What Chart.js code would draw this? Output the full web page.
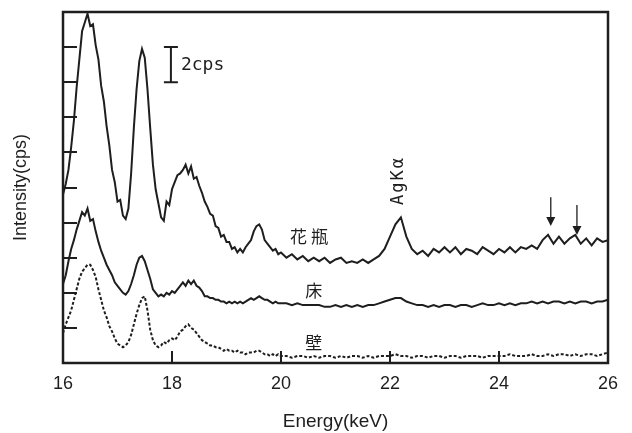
<!DOCTYPE html>
<html>
<head>
<meta charset="utf-8">
<script src="https://cdn.jsdelivr.net/npm/chart.js@4/dist/chart.umd.min.js"></script>
<style>
  html, body { margin: 0; padding: 0; background: #fff; }
  #wrap { width: 632px; height: 433px; }
</style>
</head>
<body>
<div id="wrap"><canvas id="spectrumChart" width="632" height="433"></canvas></div>
<script>
// energy channels (keV)
const energies = [
  16.00, 16.05, 16.10, 16.15, 16.20, 16.25, 16.30, 16.35, 16.40, 16.45,
  16.50, 16.55, 16.60, 16.65, 16.70, 16.75, 16.80, 16.85, 16.90, 16.95,
  17.00, 17.05, 17.10, 17.15, 17.20, 17.25, 17.30, 17.35, 17.40, 17.45,
  17.50, 17.55, 17.60, 17.65, 17.70, 17.75, 17.80, 17.85, 17.90, 17.95,
  18.00, 18.05, 18.10, 18.15, 18.20, 18.25, 18.30, 18.35, 18.40, 18.45,
  18.50, 18.55, 18.60, 18.65, 18.70, 18.75, 18.80, 18.85, 18.90, 18.95,
  19.00, 19.05, 19.10, 19.15, 19.20, 19.25, 19.30, 19.35, 19.40, 19.45,
  19.50, 19.55, 19.60, 19.65, 19.70, 19.75, 19.80, 19.85, 19.90, 19.95,
  20.0,
  20.1, 20.2, 20.3, 20.4, 20.5, 20.6, 20.7, 20.8, 20.9, 21.0,
  21.1, 21.2, 21.3, 21.4, 21.5, 21.6, 21.7, 21.8, 21.9, 22.0,
  22.1, 22.2, 22.3, 22.4, 22.5, 22.6, 22.7, 22.8, 22.9, 23.0,
  23.1, 23.2, 23.3, 23.4, 23.5, 23.6, 23.7, 23.8, 23.9, 24.0,
  24.1, 24.2, 24.3, 24.4, 24.5, 24.6, 24.7, 24.8, 24.9, 25.0,
  25.1, 25.2, 25.3, 25.4, 25.5, 25.6, 25.7, 25.8, 25.9, 26.0
];

// 花瓶 (vase), offset trace
const vase = [
  9.6, 10.2, 11.0, 12.3, 13.8, 15.7, 17.3, 18.9, 19.4, 19.9,
  19.2, 19.3, 18.1, 17.3, 15.8, 14.9, 13.5, 12.4, 11.0, 10.3,
  9.2, 9.3, 8.4, 8.2, 8.8, 10.8, 13.4, 15.6, 17.2, 17.9,
  17.4, 15.6, 13.4, 11.3, 9.9, 9.1, 8.3, 8.1, 9.2, 9.0,
  9.9, 10.3, 10.7, 10.8, 11.0, 11.3, 10.8, 11.2, 10.5, 10.6,
  10.1, 9.7, 9.2, 8.9, 8.5, 8.4, 7.8, 7.7, 7.2, 7.3,
  6.9, 6.9, 6.5, 6.6, 6.3, 6.5, 6.3, 6.6, 6.8, 7.0,
  7.5, 7.8, 7.9, 7.6, 7.0, 6.8, 6.6, 6.4, 6.5, 6.2,
  6.3,
  6.0, 6.2, 5.9, 6.1, 5.8, 6.0, 5.8, 6.0, 5.7, 5.9,
  6.0, 5.7, 5.8, 5.7, 5.9, 5.7, 5.9, 6.1, 6.5, 7.2,
  7.9, 8.3, 7.2, 6.5, 6.2, 6.4, 6.1, 6.5, 6.3, 6.6,
  6.3, 6.6, 6.2, 6.5, 6.4, 6.2, 6.6, 6.4, 6.2, 6.5,
  6.3, 6.6, 6.3, 6.6, 6.5, 6.7, 6.5, 7.0, 7.3, 6.8,
  7.2, 6.8, 7.1, 7.3, 6.8, 7.1, 6.7, 7.1, 6.9, 7.0
];

// 床 (floor)
const floor = [
  4.5, 5.0, 5.8, 6.5, 7.0, 7.6, 8.1, 8.6, 8.4, 8.8,
  8.1, 8.2, 7.5, 6.9, 6.4, 6.0, 5.6, 5.3, 5.0, 4.6,
  4.4, 4.2, 4.0, 3.9, 4.1, 4.5, 5.0, 5.6, 6.0, 6.1,
  5.8, 5.3, 4.8, 4.2, 4.0, 3.8, 3.9, 3.8, 4.0, 3.9,
  4.1, 4.0, 4.2, 4.4, 4.6, 4.4, 4.7, 4.5, 4.7, 4.4,
  4.3, 4.1, 3.8, 3.8, 3.7, 3.7, 3.6, 3.6, 3.5, 3.5,
  3.4, 3.5, 3.4, 3.5, 3.4, 3.5, 3.4, 3.5, 3.6, 3.7,
  3.6, 3.7, 3.8, 3.7, 3.6, 3.6, 3.5, 3.4, 3.5, 3.4,
  3.4,
  3.4, 3.3, 3.4, 3.3, 3.3, 3.3, 3.3, 3.2, 3.2, 3.3,
  3.2, 3.3, 3.2, 3.3, 3.2, 3.3, 3.3, 3.4, 3.5, 3.6,
  3.7, 3.7, 3.5, 3.4, 3.3, 3.3, 3.2, 3.3, 3.2, 3.3,
  3.3, 3.2, 3.3, 3.3, 3.2, 3.3, 3.4, 3.3, 3.3, 3.4,
  3.3, 3.4, 3.3, 3.4, 3.4, 3.5, 3.4, 3.5, 3.4, 3.5,
  3.5, 3.4, 3.5, 3.4, 3.5, 3.5, 3.4, 3.5, 3.5, 3.6
];

// 壁 (wall)
const wall = [
  1.7, 2.2, 2.6, 3.0, 3.6, 4.2, 4.8, 5.2, 5.4, 5.6,
  5.6, 5.3, 4.9, 4.2, 3.6, 3.0, 2.6, 2.1, 1.8, 1.4,
  1.1, 1.0, 0.9, 1.0, 1.2, 1.6, 2.2, 2.8, 3.3, 3.7,
  3.8, 3.0, 1.9, 1.3, 1.0, 0.9, 1.0, 1.2, 1.1, 1.3,
  1.4, 1.3, 1.5, 1.8, 1.9, 2.1, 2.2, 2.0, 1.9, 1.7,
  1.5, 1.3, 1.2, 1.1, 1.0, 1.0, 0.9, 0.9, 0.8, 0.7,
  0.8, 0.7, 0.7, 0.6, 0.7, 0.6, 0.6, 0.5, 0.6, 0.6,
  0.6, 0.7, 0.7, 0.6, 0.5, 0.5, 0.4, 0.5, 0.4, 0.5,
  0.4,
  0.4, 0.3, 0.4, 0.4, 0.3, 0.4, 0.3, 0.4, 0.4, 0.3,
  0.4, 0.3, 0.4, 0.4, 0.3, 0.4, 0.3, 0.4, 0.4, 0.4,
  0.5, 0.4, 0.4, 0.3, 0.4, 0.4, 0.3, 0.4, 0.4, 0.3,
  0.4, 0.4, 0.3, 0.4, 0.4, 0.4, 0.3, 0.4, 0.4, 0.4,
  0.4, 0.5, 0.4, 0.4, 0.4, 0.5, 0.4, 0.4, 0.5, 0.4,
  0.5, 0.5, 0.4, 0.5, 0.4, 0.5, 0.5, 0.4, 0.5, 0.6
];

const xTicks = [16, 18, 20, 22, 24, 26];
const yTicks = [0, 2, 4, 6, 8, 10, 12, 14, 16, 18, 20];

// annotation anchors in data units
const traceLabels = [
  { text: '花瓶', x: 20.55, y: 7.2 },
  { text: '床', x: 20.6, y: 4.1 },
  { text: '壁', x: 20.6, y: 1.15 }
];
const peakLabel = { text: 'AgKα', x: 22.15, y: 10.4 };
const arrows = [
  { x: 24.95, from: 9.45, to: 7.8 },
  { x: 25.43, from: 9.0, to: 7.3 }
];
const scaleBar = { x: 17.98, from: 16, to: 18, text: '2cps' };

const ink = '#1e1e1e';

const toPoints = (vals) => vals.map((v, i) => ({ x: energies[i], y: v }));

const overlay = {
  id: 'overlay',
  afterDraw(chart) {
    const { ctx, chartArea: a } = chart;
    const x = chart.scales.x;
    const y = chart.scales.y;
    ctx.save();
    ctx.strokeStyle = ink;
    ctx.fillStyle = ink;

    // inward ticks
    ctx.lineWidth = 2;
    yTicks.forEach(t => {
      const py = Math.round(y.getPixelForValue(t));
      ctx.beginPath();
      ctx.moveTo(a.left, py);
      ctx.lineTo(a.left + 14, py);
      ctx.stroke();
    });
    xTicks.forEach(t => {
      const px = Math.round(x.getPixelForValue(t));
      ctx.beginPath();
      ctx.moveTo(px, a.bottom);
      ctx.lineTo(px, a.bottom - 12);
      ctx.stroke();
    });

    // frame
    ctx.lineWidth = 2.5;
    ctx.strokeRect(a.left, a.top, a.right - a.left, a.bottom - a.top);

    // 2cps scale bar
    const bx = x.getPixelForValue(scaleBar.x);
    const b0 = y.getPixelForValue(scaleBar.from);
    const b1 = y.getPixelForValue(scaleBar.to);
    ctx.lineWidth = 2;
    ctx.beginPath();
    ctx.moveTo(bx, b0); ctx.lineTo(bx, b1);
    ctx.moveTo(bx - 7, b0); ctx.lineTo(bx + 7, b0);
    ctx.moveTo(bx - 7, b1); ctx.lineTo(bx + 7, b1);
    ctx.stroke();
    ctx.font = "18px 'DejaVu Sans Mono'";
    ctx.textAlign = 'left';
    ctx.textBaseline = 'middle';
    ctx.fillText(scaleBar.text, bx + 10, (b0 + b1) / 2 + 1);

    // trace names
    ctx.font = "17px 'Noto Sans CJK JP'";
    ctx.textAlign = 'center';
    traceLabels.forEach(l => {
      ctx.letterSpacing = l.text.length > 1 ? '4px' : '0px';
      ctx.fillText(l.text, x.getPixelForValue(l.x), y.getPixelForValue(l.y));
    });
    ctx.letterSpacing = '0px';

    // AgKα, rotated
    ctx.save();
    ctx.translate(x.getPixelForValue(peakLabel.x), y.getPixelForValue(peakLabel.y));
    ctx.rotate(-Math.PI / 2);
    ctx.font = "17px 'DejaVu Sans Mono'";
    ctx.letterSpacing = '2px';
    ctx.fillText(peakLabel.text, 0, 0);
    ctx.restore();

    // arrows
    ctx.lineWidth = 1.3;
    arrows.forEach(ar => {
      const px = x.getPixelForValue(ar.x);
      const p0 = y.getPixelForValue(ar.from);
      const p1 = y.getPixelForValue(ar.to);
      ctx.beginPath();
      ctx.moveTo(px, p0);
      ctx.lineTo(px, p1 - 8);
      ctx.stroke();
      ctx.beginPath();
      ctx.moveTo(px - 4.5, p1 - 9);
      ctx.lineTo(px + 4.5, p1 - 9);
      ctx.lineTo(px, p1);
      ctx.closePath();
      ctx.fill();
    });

    ctx.restore();
  }
};

document.addEventListener('DOMContentLoaded', function () {
  const ctx = document.getElementById('spectrumChart').getContext('2d');
  new Chart(ctx, {
    type: 'line',
    data: {
      datasets: [
        { label: '花瓶', data: toPoints(vase), borderColor: ink, borderWidth: 2 },
        { label: '床', data: toPoints(floor), borderColor: ink, borderWidth: 2 },
        { label: '壁', data: toPoints(wall), borderColor: ink, borderWidth: 2, borderDash: [3, 2] }
      ]
    },
    options: {
      responsive: false,
      animation: false,
      layout: { padding: { top: 12, right: 24, left: 0, bottom: 0 } },
      elements: { point: { radius: 0 }, line: { tension: 0 } },
      plugins: { legend: { display: false }, tooltip: { enabled: false } },
      scales: {
        x: {
          type: 'linear',
          min: 16,
          max: 26,
          afterFit: (scale) => { scale.height = 70; },
          afterBuildTicks: (scale) => { scale.ticks = xTicks.map(v => ({ value: v })); },
          grid: { display: false, drawTicks: false },
          border: { display: false },
          ticks: {
            padding: 10,
            color: ink,
            font: { family: "'Liberation Sans', Arial, sans-serif", size: 18 }
          },
          title: {
            display: true,
            text: 'Energy(keV)',
            color: ink,
            padding: { top: 0, bottom: 0 },
            font: { family: "'Liberation Sans', Arial, sans-serif", size: 19 }
          }
        },
        y: {
          min: 0,
          max: 20,
          afterFit: (scale) => { scale.width = 63; },
          afterBuildTicks: (scale) => { scale.ticks = yTicks.map(v => ({ value: v })); },
          grid: { display: false, drawTicks: false },
          border: { display: false },
          ticks: { display: false },
          title: {
            display: true,
            text: 'Intensity(cps)',
            color: ink,
            padding: { top: 10, bottom: 0 },
            font: { family: "'Liberation Sans', Arial, sans-serif", size: 18 }
          }
        }
      }
    },
    plugins: [overlay]
  });
});
</script>
</body>
</html>
